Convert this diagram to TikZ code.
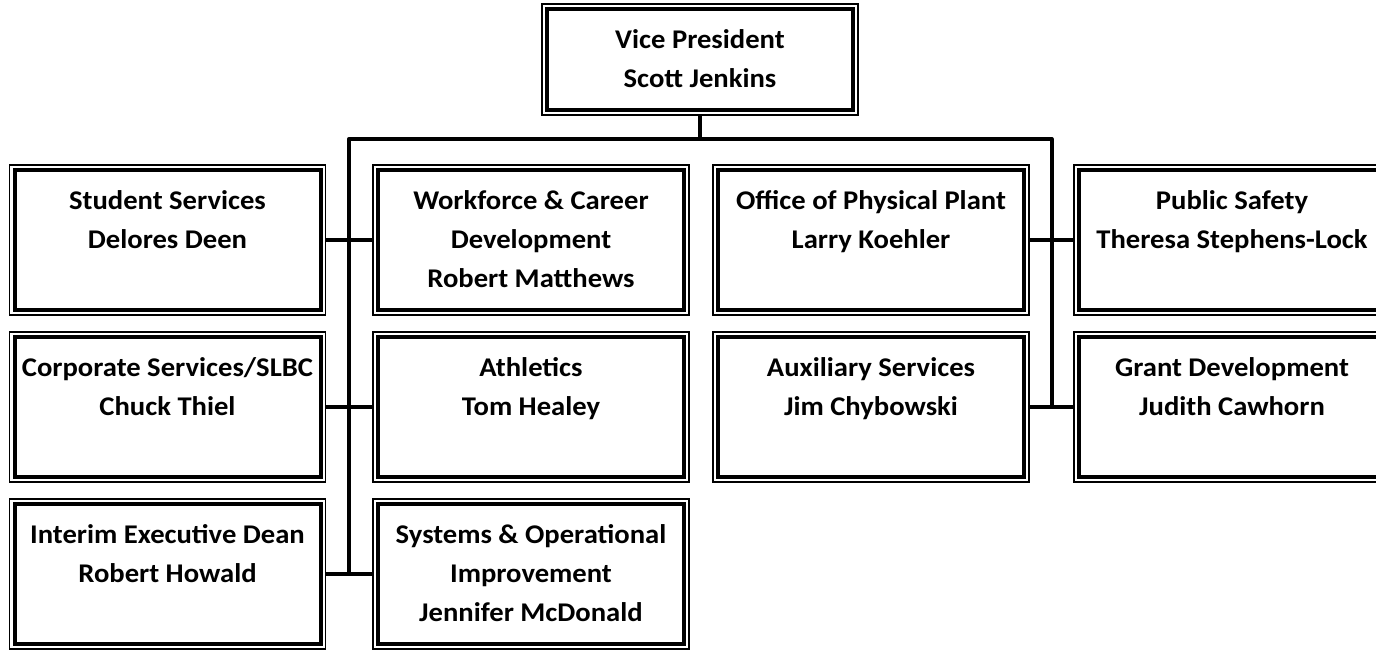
\documentclass[tikz,border=0pt]{standalone}
\usepackage{fontspec}
\setmainfont{Carlito}[FakeStretch=1.06]
\usetikzlibrary{calc,positioning}

\begin{document}
\begin{tikzpicture}[x=0.5pt, y=-0.5pt, node distance=7.7pt,
    unit/.style={draw, line width=0.8pt, minimum width=158pt, minimum height=75pt, inner sep=0pt,
      path picture={\draw[line width=2pt] ([shift={(2.5pt,2.5pt)}]path picture bounding box.south west) rectangle ([shift={(-2.5pt,-2.5pt)}]path picture bounding box.north east);},
      label={[title]north:#1}},
    title/.style={anchor=north, align=center, inner sep=0pt, yshift=-13.1pt, font=\bfseries\fontsize{13.5}{19.5}\selectfont},
    link/.style={line width=2pt, line join=round}]
    \useasboundingbox (0,0) rectangle (1376,649);

    % top of the chart
    \node[unit={Vice President\\Scott Jenkins}, minimum height=55.5pt] (vp) at (700,59.5) {};

    % first row
    \node[unit={Student Services\\Delores Deen}] (ss) at (167.5,240) {};
    \node[unit={Workforce \& Career\\Development\\Robert Matthews}] (wf) at (531,240) {};
    \node[unit={Office of Physical Plant\\Larry Koehler}] (pp) at (871,240) {};
    \node[unit={Public Safety\\Theresa Stephens-Lock}] (ps) at (1232,240) {};

    % second row
    \node[unit={Corporate Services/SLBC\\Chuck Thiel}, below=of ss] (cs) {};
    \node[unit={Athletics\\Tom Healey}, below=of wf] (at) {};
    \node[unit={Auxiliary Services\\Jim Chybowski}, below=of pp] (ax) {};
    \node[unit={Grant Development\\Judith Cawhorn}, below=of ps] (gd) {};

    % third row
    \node[unit={Interim Executive Dean\\Robert Howald}, below=of cs] (id) {};
    \node[unit={Systems \& Operational\\Improvement\\Jennifer McDonald}, below=of at] (so) {};

    % lines
    \coordinate (hub) at ($(vp.south)+(0,23)$);
    \coordinate (lbus) at ($(ss.east)!.5!(wf.west)$);
    \coordinate (rbus) at ($(pp.east)!.5!(ps.west)$);
    \draw[link] (vp.south) -- (hub);
    \draw[link] (lbus |- id.east) -- (lbus |- hub) -- (rbus |- hub) -- (rbus |- gd.east);
    \foreach \a/\b in {ss/wf, cs/at, id/so, pp/ps, ax/gd}
      \draw[link] (\a) -- (\b);
  \end{tikzpicture}
\end{document}
